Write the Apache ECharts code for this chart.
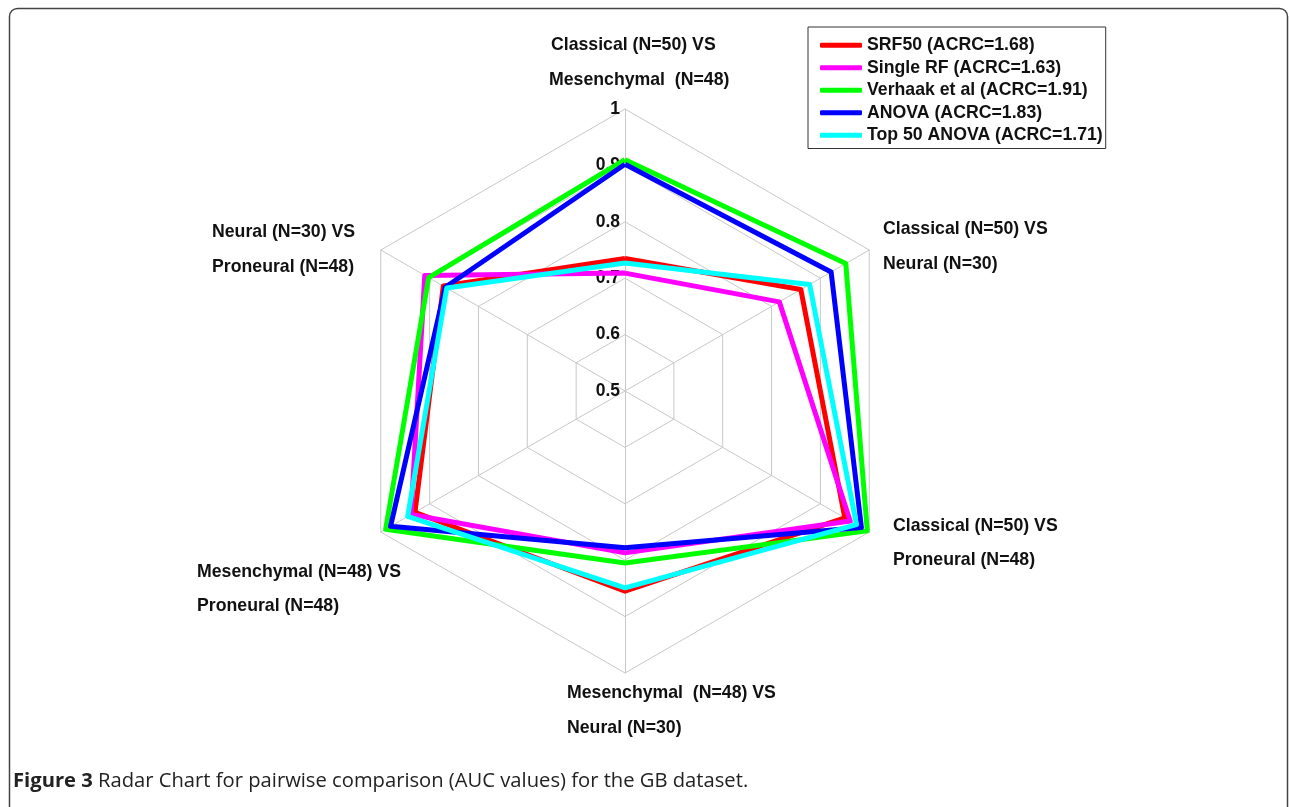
<!DOCTYPE html>
<html>
<head>
<meta charset="utf-8">
<script src="https://cdn.jsdelivr.net/npm/echarts@6/dist/echarts.min.js"></script>
<style>
html,body{margin:0;padding:0;background:#fff;}
#c{width:1290px;height:807px;}
</style>
</head>
<body>
<div id="c"></div>
<script>
// Indicators in ECharts order (counter-clockwise from top)
var categories = [
  ['Classical (N=50) VS', 'Mesenchymal  (N=48)'],
  ['Neural (N=30) VS', 'Proneural (N=48)'],
  ['Mesenchymal (N=48) VS', 'Proneural (N=48)'],
  ['Mesenchymal  (N=48) VS', 'Neural (N=30)'],
  ['Classical (N=50) VS', 'Proneural (N=48)'],
  ['Classical (N=50) VS', 'Neural (N=30)']
];
var seriesNames = [
  'SRF50 (ACRC=1.68)',
  'Single RF (ACRC=1.63)',
  'Verhaak et al (ACRC=1.91)',
  'ANOVA (ACRC=1.83)',
  'Top 50 ANOVA (ACRC=1.71)'
];
var srf50      = [0.735, 0.872, 0.930, 0.855, 0.950, 0.860];
var singleRF   = [0.709, 0.910, 0.938, 0.787, 0.961, 0.816];
var verhaak    = [0.910, 0.902, 0.990, 0.805, 0.996, 0.952];
var anova      = [0.902, 0.868, 0.980, 0.778, 0.984, 0.922];
var top50Anova = [0.727, 0.865, 0.945, 0.849, 0.974, 0.878];
var tickLabels = ['0.5', '0.6', '0.7', '0.8', '0.9', '1'];
var axisMin = 0.5, axisMax = 1;
var colors = ['#ff0000', '#ff00ff', '#00ff00', '#0000ff', '#00ffff'];
var allValues = [srf50, singleRF, verhaak, anova, top50Anova];

var chart = echarts.init(document.getElementById('c'), null, {renderer: 'canvas'});
var labelFont = 'bold 17.7px "Liberation Sans", Arial, sans-serif';

var indicator = categories.map(function (c, i) {
  var ind = {name: c.join('\n'), min: axisMin, max: axisMax};
  if (i === 0) {
    ind.axisLabel = {
      show: true,
      color: '#111',
      fontSize: 17.5,
      fontWeight: 'bold',
      fontFamily: '"Liberation Sans", Arial, sans-serif',
      margin: 5,
      formatter: function (v) {
        var idx = Math.round((v - axisMin) / 0.1);
        return tickLabels[idx] != null ? tickLabels[idx] : '';
      }
    };
  }
  return ind;
});

// axis name label placements (two lines each, vertical centres)
var namePos = [
  [[551, 45], [549, 80]],
  [[212, 232], [212, 267]],
  [[197, 572], [197, 606]],
  [[567, 693], [567, 728]],
  [[893, 526], [893, 560]],
  [[883, 229], [883, 264]]
];
var graphics = [];
categories.forEach(function (c, i) {
  c.forEach(function (line, j) {
    graphics.push({
      type: 'text', x: namePos[i][j][0], y: namePos[i][j][1],
      style: {text: line, font: labelFont, fill: '#111', verticalAlign: 'middle', align: 'left'}
    });
  });
});
graphics.push({
  type: 'rect', shape: {x: 9.5, y: 8.5, width: 1278, height: 830, r: 8},
  style: {fill: 'none', stroke: '#444', lineWidth: 1.5}, silent: true
});
graphics.push({
  type: 'text', x: 13, y: 781,
  style: {
    text: '{b|Figure 3} Radar Chart for pairwise comparison (AUC values) for the GB dataset.',
    font: '20.2px "Open Sans", sans-serif', fill: '#222', verticalAlign: 'middle',
    rich: {b: {fontWeight: 'bold', fontSize: 20.2, fontFamily: '"Open Sans", sans-serif', fill: '#222'}}
  }
});

var option = {
  backgroundColor: '#fff',
  animation: false,
  color: colors,
  legend: {
    orient: 'vertical',
    left: 808, top: 27,
    padding: [7, 3, 2, 12],
    itemGap: 0,
    itemWidth: 42, itemHeight: 5,
    icon: 'roundRect',
    borderColor: '#333', borderWidth: 1, borderRadius: 0,
    backgroundColor: '#fff',
    textStyle: {fontSize: 17.7, fontWeight: 'bold', color: '#111', fontFamily: '"Liberation Sans", Arial, sans-serif', lineHeight: 22.5},
    data: seriesNames
  },
  radar: {
    center: [625, 391],
    radius: 282,
    startAngle: 90,
    shape: 'polygon',
    splitNumber: 5,
    indicator: indicator,
    axisName: {show: false},
    axisLabel: {show: false},
    axisLine: {lineStyle: {color: '#c8c8c8', width: 1}},
    splitLine: {lineStyle: {color: '#c8c8c8', width: 1}},
    splitArea: {show: false}
  },
  series: allValues.map(function (vals, i) {
    return {
      type: 'radar',
      name: seriesNames[i],
      symbol: 'none',
      itemStyle: {color: colors[i]},
      lineStyle: {color: colors[i], width: 5},
      data: [{name: seriesNames[i], value: vals}]
    };
  }),
  graphic: graphics
};
chart.setOption(option);
</script>
</body>
</html>
